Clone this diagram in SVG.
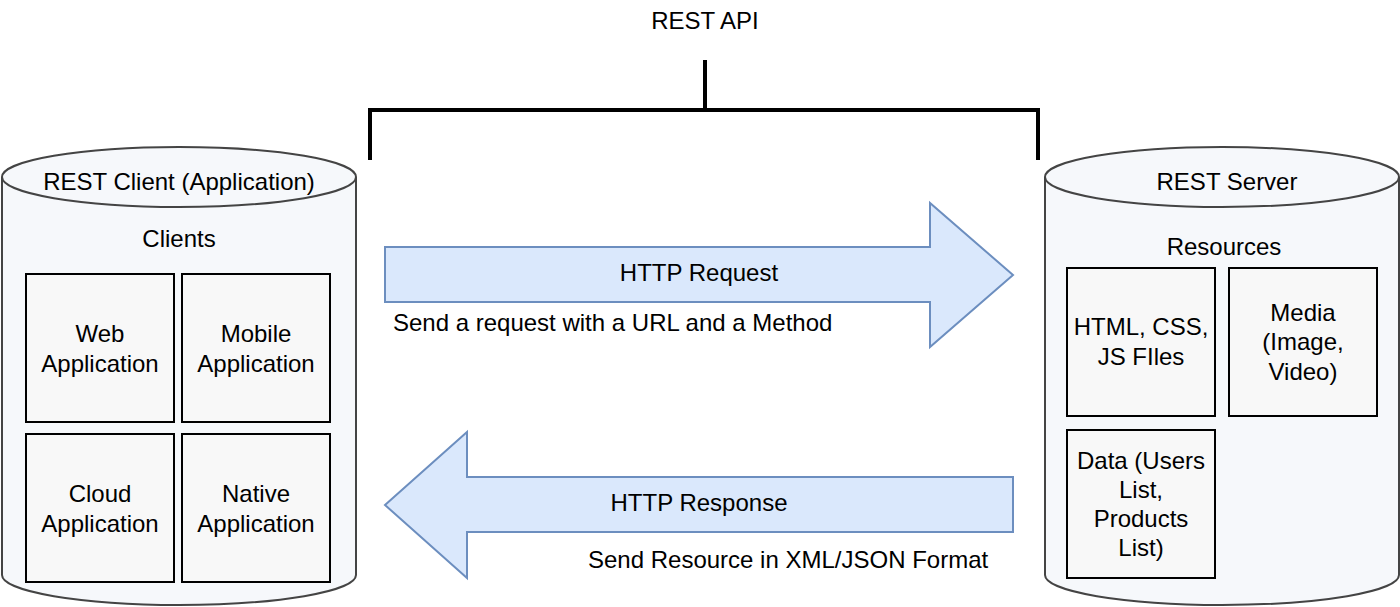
<svg xmlns="http://www.w3.org/2000/svg" width="1400" height="607" viewBox="0 0 1400 607">
<style>
text{font-family:"Liberation Sans",Arial,sans-serif;font-size:24px;fill:#000}
.c{text-anchor:middle}
.cyl{fill:#f6f8fb;stroke:#444;stroke-width:2}
.box{fill:#f8f8f8;stroke:#000;stroke-width:2}
.arr{fill:#dae8fc;stroke:#6c8ebf;stroke-width:2}
.br{fill:none;stroke:#000;stroke-width:4}
</style>
<rect width="1400" height="607" fill="#fff"/>
<g id="rest-api">
<text class="c" x="705" y="29">REST API</text>
<path class="br" d="M705,60 V110 M370,160 V110 H1038 V160"/>
</g>
<g id="client">
<path class="cyl" d="M2,177 A177,30 0 0 1 356,177 L356,575 A177,30 0 0 1 2,575 Z"/>
<path class="cyl" fill="none" d="M2,177 A177,30 0 0 0 356,177"/>
<text class="c" x="179" y="190">REST Client (Application)</text>
<text class="c" x="179" y="247">Clients</text>
</g>
<g id="web"><rect class="box" x="26" y="274" width="148" height="148"/><text class="c" x="100" y="342">Web</text><text class="c" x="100" y="372">Application</text></g>
<g id="mobile"><rect class="box" x="182" y="274" width="148" height="148"/><text class="c" x="256" y="342">Mobile</text><text class="c" x="256" y="372">Application</text></g>
<g id="cloud"><rect class="box" x="26" y="434" width="148" height="148"/><text class="c" x="100" y="502">Cloud</text><text class="c" x="100" y="532">Application</text></g>
<g id="native"><rect class="box" x="182" y="434" width="148" height="148"/><text class="c" x="256" y="502">Native</text><text class="c" x="256" y="532">Application</text></g>
<g id="server">
<path class="cyl" d="M1045,177 A177,30 0 0 1 1399,177 L1399,575 A177,30 0 0 1 1045,575 Z"/>
<path class="cyl" fill="none" d="M1045,177 A177,30 0 0 0 1399,177"/>
<text class="c" x="1227" y="190">REST Server</text>
<text class="c" x="1224" y="255">Resources</text>
</g>
<g id="html"><rect class="box" x="1067" y="268" width="148" height="148"/><text class="c" x="1141" y="335">HTML, CSS,</text><text class="c" x="1141" y="365">JS FIles</text></g>
<g id="media"><rect class="box" x="1229" y="268" width="148" height="148"/><text class="c" x="1303" y="321">Media</text><text class="c" x="1303" y="350">(Image,</text><text class="c" x="1303" y="380">Video)</text></g>
<g id="data"><rect class="box" x="1067" y="430" width="148" height="148"/><text class="c" x="1141" y="469">Data (Users</text><text class="c" x="1141" y="498">List,</text><text class="c" x="1141" y="527">Products</text><text class="c" x="1141" y="556">List)</text></g>
<g id="connectors">
<g id="request">
<path class="arr" d="M385,247 H930 V203 L1013,275 L930,347 V302 H385 Z"/>
<text class="c" x="699" y="281">HTTP Request</text>
<text x="393" y="331">Send a request with a URL and a Method</text>
</g>
<g id="response">
<path class="arr" d="M1013,477 H467 V432 L385,505 L467,578 V532 H1013 Z"/>
<text class="c" x="699" y="511">HTTP Response</text>
<text x="588" y="568">Send Resource in XML/JSON Format</text>
</g>
</g>
</svg>
